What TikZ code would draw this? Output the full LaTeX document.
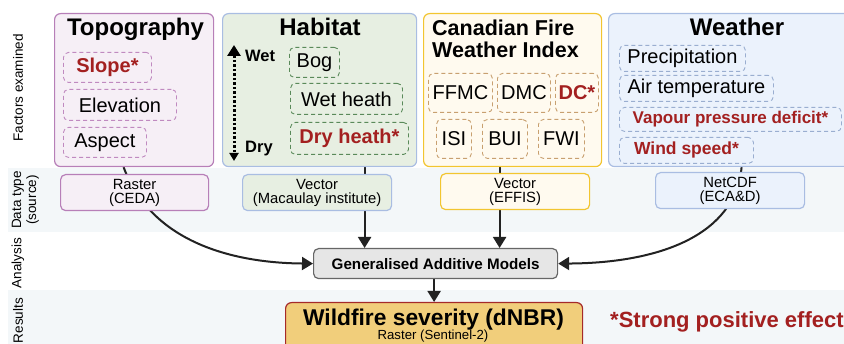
\documentclass[tikz,border=0pt]{standalone}
\usepackage{fontspec}
\setmainfont{Liberation Sans}
\usetikzlibrary{arrows.meta}
\pgfdeclarelayer{bands}
\pgfdeclarelayer{back}
\pgfsetlayers{bands,back,main}
\definecolor{bandc}{RGB}{243,247,249}
\definecolor{topofill}{RGB}{246,239,246}
\definecolor{topodraw}{RGB}{183,127,184}
\definecolor{topodash}{RGB}{192,138,192}
\definecolor{habfill}{RGB}{231,239,226}
\definecolor{bluedraw}{RGB}{169,189,226}
\definecolor{habdash}{RGB}{90,138,90}
\definecolor{fwifill}{RGB}{255,250,239}
\definecolor{fwidraw}{RGB}{242,197,48}
\definecolor{fwidash}{RGB}{200,160,112}
\definecolor{wfill}{RGB}{235,242,252}
\definecolor{wdash}{RGB}{154,174,208}
\definecolor{redtxt}{RGB}{163,32,32}
\definecolor{gamfill}{RGB}{230,230,230}
\definecolor{gamdraw}{RGB}{102,102,102}
\definecolor{wildfill}{RGB}{241,206,123}
\definecolor{wilddraw}{RGB}{165,42,42}
\definecolor{linec}{RGB}{34,34,34}
\newcommand\myfs[2]{\fontsize{#1}{#2}\selectfont}
\begin{document}
\begin{tikzpicture}[x=1pt,y=-1pt,
  bigbox/.style={draw, rounded corners=6pt, line width=1.2pt, anchor=north west, inner sep=0pt},
  item/.style={draw, dash pattern=on 4pt off 3pt, rounded corners=5pt, line width=0.9pt, anchor=north west, inner sep=0pt, font=\myfs{20}{22}},
  reditem/.style={item, text=redtxt, font=\myfs{20}{22}\bfseries},
  databox/.style={draw, rounded corners=5pt, line width=1.2pt, anchor=north west, inner sep=0pt, align=center, font=\myfs{14.8}{14}},
  title/.style={anchor=base, inner sep=0pt, font=\myfs{24}{26}\bfseries},
  side/.style={rotate=90, inner sep=0pt, align=center, font=\myfs{13.5}{15}},
  conn/.style={draw=linec, line width=2pt, -{Triangle[width=13pt,length=11pt]}}]
\useasboundingbox (0,0) rectangle (844,344);
\clip (0,0) rectangle (844,344);
\begin{pgfonlayer}{bands}
  \fill[bandc] (8,168) rectangle (844,232);
  \fill[bandc] (8,290) rectangle (844,344);
\end{pgfonlayer}
% side labels
\node[side] (lf) at (18,88) {Factors examined};
\node[side] (ld) at (25.5,200) {Data type\\(source)};
\node[side] (la) at (18,263) {Analysis};
\node[side] (lr) at (18,320.5) {Results};
% big boxes
\node[bigbox, fill=topofill, draw=topodraw, minimum width=159pt, minimum height=153pt] (topo) at (54,13) {};
\node[bigbox, fill=habfill, draw=bluedraw, minimum width=194pt, minimum height=153pt] (hab) at (222,13) {};
\node[bigbox, fill=fwifill, draw=fwidraw, minimum width=178pt, minimum height=153pt] (fwibox) at (423,13) {};
\node[bigbox, fill=wfill, draw=bluedraw, minimum width=244pt, minimum height=153pt] (wea) at (608,13) {};
% titles
\node[title] (ttopo) at (135.5,36) {Topography};
\node[title] (thab) at (320,36) {Habitat};
\node[title] (twea) at (737,36) {Weather};
\node[anchor=base west, inner sep=0pt, font=\myfs{21.5}{22}\bfseries] (tfwi1) at (432,36) {Canadian Fire};
\node[anchor=base west, inner sep=0pt, font=\myfs{21.5}{22}\bfseries] (tfwi2) at (432,58) {Weather Index};
% topography items
\node[reditem, draw=topodash, minimum width=88pt, minimum height=30pt] (slope) at (63,52) {Slope*};
\node[item, draw=topodash, minimum width=113pt, minimum height=31pt] (elev) at (63,89) {Elevation};
\node[item, draw=topodash, minimum width=83pt, minimum height=30pt] (aspect) at (63,127) {Aspect};
% habitat items
\node[item, draw=habdash, minimum width=50pt, minimum height=30pt] (bog) at (289,47) {Bog};
\node[item, draw=habdash, minimum width=112pt, minimum height=31pt] (wetheath) at (290,83) {Wet heath};
\node[reditem, draw=habdash, minimum width=118pt, minimum height=32pt] (dryheath) at (290,122) {Dry heath*};
\node[anchor=base west, inner sep=0pt, font=\myfs{16.5}{18}\bfseries] (wet) at (245,62) {Wet};
\node[anchor=base west, inner sep=0pt, font=\myfs{16.5}{18}\bfseries] (dry) at (245,153) {Dry};
\coordinate (wdtop) at (234,45);
\coordinate (wdbot) at (234,161);
\draw[line width=3pt, dash pattern=on 2.5pt off 2pt, {Triangle[width=13pt,length=11pt]}-{Triangle[width=9pt,length=8pt]}] (wdtop) -- (wdbot);
% FWI items
\node[item, draw=fwidash, minimum width=64pt, minimum height=39pt] (ffmc) at (428,73) {FFMC};
\node[item, draw=fwidash, minimum width=53pt, minimum height=39pt] (dmc) at (497,73) {DMC};
\node[reditem, draw=fwidash, minimum width=43pt, minimum height=39pt] (dc) at (555,73) {DC*};
\node[item, draw=fwidash, minimum width=35pt, minimum height=39pt] (isi) at (436,119) {ISI};
\node[item, draw=fwidash, minimum width=45pt, minimum height=39pt] (bui) at (482,119) {BUI};
\node[item, draw=fwidash, minimum width=46pt, minimum height=39pt] (fwi) at (538,119) {FWI};
% weather items
\node[item, draw=wdash, minimum width=126pt, minimum height=26pt] (precip) at (619,45) {Precipitation};
\node[item, draw=wdash, minimum width=154pt, minimum height=26pt] (airt) at (619,75) {Air temperature};
\node[item, draw=wdash, text=redtxt, font=\myfs{17}{19}\bfseries, minimum width=222pt, minimum height=24pt] (vpd) at (619,107) {Vapour pressure deficit*};
\node[item, draw=wdash, text=redtxt, font=\myfs{17.5}{19}\bfseries, minimum width=134pt, minimum height=26pt] (wind) at (619,137) {Wind speed*};
% data boxes
\node[databox, fill=topofill, draw=topodraw, minimum width=148pt, minimum height=36pt] (raster) at (60,174) {Raster\\(CEDA)};
\node[databox, fill=habfill, draw=bluedraw, minimum width=149pt, minimum height=36pt] (vmac) at (242,174) {Vector\\(Macaulay institute)};
\node[databox, fill=fwifill, draw=fwidraw, minimum width=149pt, minimum height=36pt] (veff) at (440,173) {Vector\\(EFFIS)};
\node[databox, fill=wfill, draw=bluedraw, minimum width=149pt, minimum height=36pt] (ncdf) at (655,172) {NetCDF\\(ECA\&D)};
% GAM
\node[draw=gamdraw, fill=gamfill, rounded corners=5pt, line width=1.2pt, anchor=north west, inner sep=0pt, minimum width=244pt, minimum height=30pt, font=\myfs{15.2}{16}\bfseries] (gam) at (313,248) {Generalised Additive Models};
% wildfire
\node[draw=wilddraw, fill=wildfill, rounded corners=6pt, line width=1.2pt, anchor=north west, inner sep=0pt, minimum width=297pt, minimum height=60pt] (wild) at (285,302) {};
\node[anchor=base, inner sep=0pt, font=\myfs{22.8}{24}\bfseries] (wildt) at (433.5,326) {Wildfire severity (dNBR)};
\node[anchor=base, inner sep=0pt, font=\myfs{13.2}{14}] (wilds) at (433,340) {Raster (Sentinel-2)};
\node[anchor=base west, inner sep=0pt, text=redtxt, font=\myfs{22}{24}\bfseries] (note) at (610,328) {*Strong positive effect};
% connectors
\begin{pgfonlayer}{back}
  \draw[conn] ([xshift=-10.5pt]topo.south) .. controls (153,246) and (240,263) .. (gam.west);
  \draw[conn] ([xshift=45pt]hab.south) -- ([xshift=45pt]hab.south |- gam.north);
  \draw[conn] ([xshift=-13pt]fwibox.south) -- ([xshift=-13pt]fwibox.south |- gam.north);
  \draw[conn] ([xshift=11pt]wea.south) .. controls (735,235) and (660,263) .. (gam.east);
  \draw[conn] (gam.south -| wild.north) -- (wild.north);
\end{pgfonlayer}
\end{tikzpicture}
\end{document}
